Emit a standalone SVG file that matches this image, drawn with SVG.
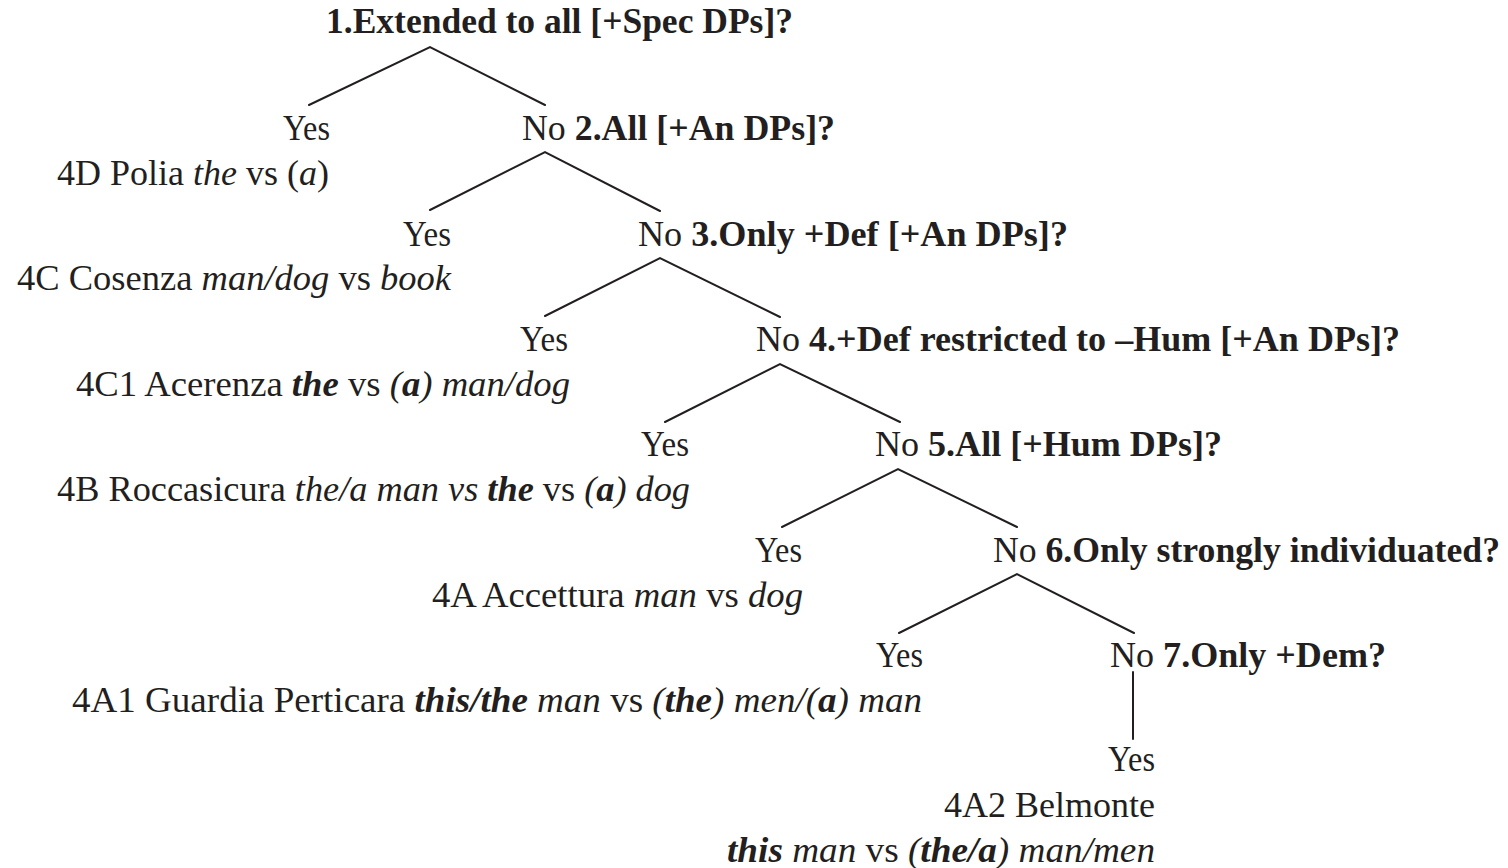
<svg xmlns="http://www.w3.org/2000/svg" width="1508" height="868" viewBox="0 0 1508 868">
  <style>
    text { font-family: "Liberation Serif", "DejaVu Serif", serif; font-size: 35px; fill: #231f20; }
    .b { font-weight: bold; }
    .i { font-style: italic; }
    .bi { font-weight: bold; font-style: italic; }
    .edge { stroke: #231f20; stroke-width: 2; fill: none; stroke-linecap: round; }
  </style>
  <rect width="1508" height="868" fill="#ffffff"/>

  <!-- branches -->
  <g id="connectors">
    <polyline class="edge" points="309,105 430,47 545,105"/>
    <polyline class="edge" points="430,210 545,152 660,211"/>
    <polyline class="edge" points="545,316 660,258 780,317"/>
    <polyline class="edge" points="665,422 780,364 900,422"/>
    <polyline class="edge" points="782,527 898,469 1017,527"/>
    <polyline class="edge" points="899,633 1017,574 1134,633"/>
    <line class="edge" x1="1133" y1="672" x2="1133" y2="739"/>
  </g>

  <g id="q1">
    <text x="326" y="33" textLength="467" lengthAdjust="spacingAndGlyphs" class="b">1.Extended to all [+Spec DPs]?</text>
  </g>

  <g id="yes1">
    <text x="283" y="140" textLength="47" lengthAdjust="spacingAndGlyphs">Yes</text>
    <text x="57" y="185" textLength="272" lengthAdjust="spacingAndGlyphs">4D Polia <tspan class="i">the</tspan> vs (<tspan class="i">a</tspan>)</text>
  </g>
  <g id="q2">
    <text x="522" y="140" textLength="313" lengthAdjust="spacingAndGlyphs">No <tspan class="b">2.All [+An DPs]?</tspan></text>
  </g>

  <g id="yes2">
    <text x="403" y="246" textLength="48" lengthAdjust="spacingAndGlyphs">Yes</text>
    <text x="17" y="290" textLength="434" lengthAdjust="spacingAndGlyphs">4C Cosenza <tspan class="i">man/dog</tspan> vs <tspan class="i">book</tspan></text>
  </g>
  <g id="q3">
    <text x="638" y="246" textLength="430" lengthAdjust="spacingAndGlyphs">No <tspan class="b">3.Only +Def [+An DPs]?</tspan></text>
  </g>

  <g id="yes3">
    <text x="520" y="351" textLength="48" lengthAdjust="spacingAndGlyphs">Yes</text>
    <text x="76" y="396" textLength="494" lengthAdjust="spacingAndGlyphs">4C1 Acerenza <tspan class="bi">the</tspan> vs <tspan class="i">(</tspan><tspan class="bi">a</tspan><tspan class="i">) man/dog</tspan></text>
  </g>
  <g id="q4">
    <text x="756" y="351" textLength="644" lengthAdjust="spacingAndGlyphs">No <tspan class="b">4.+Def restricted to –Hum [+An DPs]?</tspan></text>
  </g>

  <g id="yes4">
    <text x="641" y="456" textLength="48" lengthAdjust="spacingAndGlyphs">Yes</text>
    <text x="57" y="501" textLength="633" lengthAdjust="spacingAndGlyphs">4B Roccasicura <tspan class="i">the/a man vs </tspan><tspan class="bi">the</tspan> vs <tspan class="i">(</tspan><tspan class="bi">a</tspan><tspan class="i">) dog</tspan></text>
  </g>
  <g id="q5">
    <text x="875" y="456" textLength="347" lengthAdjust="spacingAndGlyphs">No <tspan class="b">5.All [+Hum DPs]?</tspan></text>
  </g>

  <g id="yes5">
    <text x="755" y="562" textLength="47" lengthAdjust="spacingAndGlyphs">Yes</text>
    <text x="432" y="607" textLength="371" lengthAdjust="spacingAndGlyphs">4A Accettura <tspan class="i">man</tspan> vs <tspan class="i">dog</tspan></text>
  </g>
  <g id="q6">
    <text x="993" y="562" textLength="507" lengthAdjust="spacingAndGlyphs">No <tspan class="b">6.Only strongly individuated?</tspan></text>
  </g>

  <g id="yes6">
    <text x="876" y="667" textLength="47" lengthAdjust="spacingAndGlyphs">Yes</text>
    <text x="72" y="712" textLength="850" lengthAdjust="spacingAndGlyphs">4A1 Guardia Perticara <tspan class="bi">this/the</tspan><tspan class="i"> man</tspan> vs <tspan class="i">(</tspan><tspan class="bi">the</tspan><tspan class="i">) men/(</tspan><tspan class="bi">a</tspan><tspan class="i">) man</tspan></text>
  </g>
  <g id="q7">
    <text x="1110" y="667" textLength="276" lengthAdjust="spacingAndGlyphs">No <tspan class="b">7.Only +Dem?</tspan></text>
  </g>

  <g id="yes7">
    <text x="1108" y="771" textLength="47" lengthAdjust="spacingAndGlyphs">Yes</text>
    <text x="944" y="817" textLength="211" lengthAdjust="spacingAndGlyphs">4A2 Belmonte</text>
    <text x="727" y="862" textLength="428" lengthAdjust="spacingAndGlyphs"><tspan class="bi">this</tspan><tspan class="i"> man</tspan> vs <tspan class="i">(</tspan><tspan class="bi">the/a</tspan><tspan class="i">) man/men</tspan></text>
  </g>
</svg>
